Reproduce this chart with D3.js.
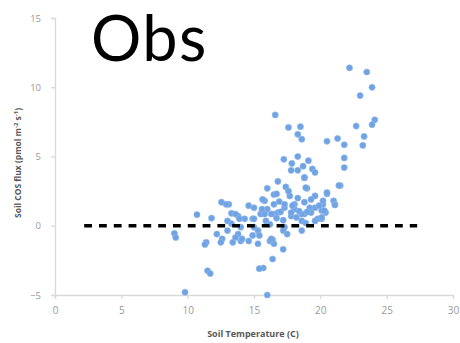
<!DOCTYPE html>
<html><head><meta charset="utf-8">
<script src="https://cdn.jsdelivr.net/npm/d3@7"></script>
<style>html,body{margin:0;padding:0;background:#fff;}svg{display:block;}</style>
</head><body><svg id="c" width="460" height="343"></svg>
<script>
const title = "Obs";
const xLabel = "Soil Temperature (C)";
const xTicks = [0, 5, 10, 15, 20, 25, 30];
const yTicks = [-5, 0, 5, 10, 15];
const refLineX = [2.2, 27.3];
const refLineY = 0;
const soilTemp = [
22.2,23.5,23.9,23.0,24.1,23.9,22.7,23.3,21.3,20.5,21.8,23.2,21.8,21.8,21.5,20.5,21.0,21.1,20.2,20.4,20.1,
16.6,17.6,18.5,18.3,18.6,17.25,18.3,17.85,19.1,18.7,17.8,18.3,19.4,19.6,18.8,16.8,16.0,17.4,19.0,21.4,
16.5,17.7,18.3,19.6,15.8,16.9,18.8,20.2,15.0,16.0,17.3,18.05,19.2,20.1,15.5,16.5,17.8,18.8,19.8,14.9,15.9,17.2,18.6,17.3,18.6,15.3,14.9,16.2,16.5,15.3,17.2,16.4,15.7,16.0,16.4,21.1,20.5,
18.8,18.9,16.7,19.3,16.5,17.3,18.05,19.6,20.3,16.8,17.8,18.6,19.3,20.1,19.6,17.2,
10.7,11.8,9.0,9.1,11.4,11.3,11.5,11.7,9.8,12.55,13.1,14.6,13.3,13.8,14.3,13.0,12.2,12.6,13.4,14.0,14.6,13.0,13.8,15.0,13.3,14.0,15.4,
15.65,12.9,13.6,13.9,15.0,15.8,16.3,13.6,14.1,12.5,16.3,15.4,
17.0,17.9,18.2,19.0,16.2,17.6,18.4,19.9,15.6,16.7,17.5,18.9
];
const cosFlux = [
11.4,11.1,10.0,9.4,7.65,7.3,7.2,6.45,6.3,6.1,5.85,5.8,4.9,4.2,2.9,2.3,1.8,1.55,1.55,0.95,0.5,
8.0,7.1,7.15,6.6,6.25,4.8,5.0,4.5,4.7,4.3,4.0,4.0,4.1,3.85,3.45,3.2,2.7,2.8,2.7,2.9,
2.25,2.15,2.0,2.15,1.8,1.75,1.7,1.8,1.3,1.2,1.3,1.2,1.3,1.1,0.85,0.85,0.7,0.85,0.5,0.5,0.35,0.4,0.35,-0.1,-0.35,-0.35,-0.7,-1.1,-1.3,-1.3,-1.7,-2.4,-3.05,-5.0,-1.0,1.5,2.4,
3.5,2.75,2.3,1.9,1.55,1.55,1.55,1.3,1.1,0.95,0.95,0.85,0.95,0.6,0.35,-0.35,
0.8,0.55,-0.55,-0.85,-1.2,-1.35,-3.25,-3.45,-4.8,1.7,1.55,1.45,0.9,0.7,0.5,0.35,-0.6,-0.95,-1.2,-1.1,-1.1,-0.35,-0.6,-0.1,0.15,-0.1,-3.1,
1.9,1.55,0.85,0.5,0.5,0.85,0.85,-0.85,-0.95,-1.2,-0.95,-0.7,
1.0,1.45,0.6,1.0,0.1,2.5,1.05,1.45,1.2,0.55,-0.6,0.2
];

const svg = d3.select("#c");
const x = d3.scaleLinear().domain([0, 30]).range([55, 453]);
const y = d3.scaleLinear().domain([-5, 15]).range([295, 18]);
const axisColor = "#d9d9d9";
const tickText = "#9a9a9a";

// x axis
const gx = svg.append("g").attr("transform", `translate(0,${y(-5)})`)
  .call(d3.axisBottom(x).tickValues(xTicks).tickSize(4).tickPadding(8).tickFormat(d3.format("d")));
gx.select(".domain").attr("stroke", axisColor).attr("stroke-width", 1.3);
gx.selectAll(".tick line").attr("stroke", axisColor).attr("stroke-width", 1.3);
gx.selectAll("text").attr("fill", tickText).style("font-family", "Open Sans, sans-serif").style("font-size", "10px");

// y axis
const gy = svg.append("g").attr("transform", `translate(${x(0)},0)`)
  .call(d3.axisLeft(y).tickValues(yTicks).tickSize(4).tickPadding(10).tickFormat(d3.format("d")));
gy.select(".domain").attr("stroke", axisColor).attr("stroke-width", 1.3);
gy.selectAll(".tick line").attr("stroke", axisColor).attr("stroke-width", 1.3);
gy.selectAll("text").attr("fill", tickText).style("font-family", "Open Sans, sans-serif").style("font-size", "9.5px");

// points
const pts = soilTemp.map((t, i) => [t, cosFlux[i]]);
svg.append("g").selectAll("circle").data(pts).join("circle")
  .attr("cx", d => x(d[0])).attr("cy", d => y(d[1])).attr("r", 3.1)
  .attr("fill", "#6fa3e4").attr("stroke", "#94bbeb").attr("stroke-width", 0.6);

// reference dashed line
svg.append("line")
  .attr("x1", x(refLineX[0])).attr("x2", x(refLineX[1]))
  .attr("y1", y(refLineY)).attr("y2", y(refLineY))
  .attr("stroke", "#000").attr("stroke-width", 3.6).attr("stroke-dasharray", "7.8,7");

// axis titles
svg.append("text").attr("x", 253).attr("y", 337).attr("text-anchor", "middle")
  .attr("fill", "#595959").style("font-family", "Open Sans, sans-serif").style("font-size", "9px").style("font-weight", "bold")
  .text(xLabel);
const yl = svg.append("text").attr("transform", "translate(21,163) rotate(-90)").attr("text-anchor", "middle")
  .attr("fill", "#595959").style("font-family", "Open Sans, sans-serif").style("font-size", "8.5px").style("font-weight", "bold");
yl.append("tspan").text("Soil COS flux (pmol m");
yl.append("tspan").attr("dy", -3).style("font-size", "6px").text("-2");
yl.append("tspan").attr("dy", 3).text(" s");
yl.append("tspan").attr("dy", -3).style("font-size", "6px").text("-1");
yl.append("tspan").attr("dy", 3).text(")");

// big title
svg.append("text").attr("x", 91).attr("y", 61)
  .attr("fill", "#000").style("font-family", "Lato, sans-serif").style("font-size", "63px").style("letter-spacing", "1.5px")
  .text(title);
</script></body></html>
